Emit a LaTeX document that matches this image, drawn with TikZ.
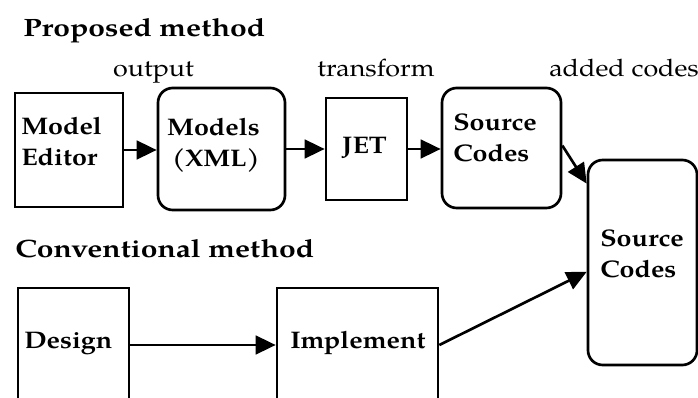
\documentclass[tikz,border=0pt]{standalone}
\usepackage{fontspec}
\setmainfont{texgyrepagella}[Extension=.otf, UprightFont=*-regular, BoldFont=*-bold, ItalicFont=*-italic, BoldItalicFont=*-bolditalic, FakeStretch=1.12]
\newfontfamily\titlefont{texgyrepagella}[Extension=.otf, UprightFont=*-regular, BoldFont=*-bold, ItalicFont=*-italic, BoldItalicFont=*-bolditalic, FakeStretch=1.2]
\usetikzlibrary{arrows.meta,calc}
\begin{document}
\begin{tikzpicture}[x=0.75pt,y=-0.75pt,
  box/.style={draw, inner sep=0pt, line width=2pt},
  rbox/.style={box, rounded corners=11pt},
  txt/.style={inner sep=0pt, anchor=base west, align=left, font=\fontsize{18}{23.25}\selectfont\bfseries},
  lbl/.style={inner sep=0pt, anchor=base, font=\fontsize{18}{22}\selectfont},
  ttl/.style={inner sep=0pt, anchor=base west, font=\titlefont\fontsize{18.8}{22}\selectfont\bfseries},
  arr/.style={-{Triangle[length=15pt,width=14pt]}, line width=2pt}]
\useasboundingbox (0,0) rectangle (698,398);
% titles and labels
\node[ttl] (tprop) at (23,37) {Proposed method};
\node[ttl] (tconv) at (15,258) {Conventional method};
\node[lbl] (lout) at (153.5,77) {output};
\node[lbl] (ltrans) at (376,77) {transform};
\node[lbl, anchor=base west] (ladd) at (549,77) {added codes};
% boxes
\node[box,  minimum width={108*0.75pt}, minimum height={114*0.75pt}] (me)  at (69,150) {};
\node[rbox, minimum width={127*0.75pt}, minimum height={122*0.75pt}] (xml) at (221.5,149) {};
\node[box,  minimum width={81*0.75pt},  minimum height={102*0.75pt}] (jet) at (366.5,149) {};
\node[rbox, minimum width={119*0.75pt}, minimum height={120*0.75pt}] (sc1) at (501.5,148) {};
\node[rbox, minimum width={109*0.75pt}, minimum height={205*0.75pt}] (sc2) at (642.5,262.5) {};
\node[box,  minimum width={111*0.75pt}, minimum height={114*0.75pt}] (des) at (73.5,345) {};
\node[box,  minimum width={161*0.75pt}, minimum height={114*0.75pt}] (imp) at (357.5,345) {};
% box texts (base = baseline of the last line)
\node[txt] (tme)  at (21,166) {Model\\Editor};
\node[txt, anchor=base east, align=right] (txml) at (260,167) {Models\\(XML)};
\node[txt, anchor=base] (tjet) at (364.5,154) {JET};
\node[txt] (tsc1) at (453,162) {Source\\Codes};
\node[txt] (tsc2) at (600,278) {Source\\Codes};
\node[txt] (tdes) at (24,348) {Design};
\node[txt] (timp) at (290,348) {Implement};
% connectors
\draw[arr] (me.east) -- (me.east -| xml.west);
\draw[arr] (xml.east) -- (jet.west);
\draw[arr] (jet.east) -- (jet.east -| sc1.west);
\draw[arr] ($(sc1.north east)!0.48!(sc1.south east)$) -- ($(sc2.north west)!0.12!(sc2.south west)$);
\draw[arr] (des.east) -- (imp.west);
\draw[arr] (imp.east) -- ($(sc2.north west)!0.545!(sc2.south west)$);
\end{tikzpicture}
\end{document}
